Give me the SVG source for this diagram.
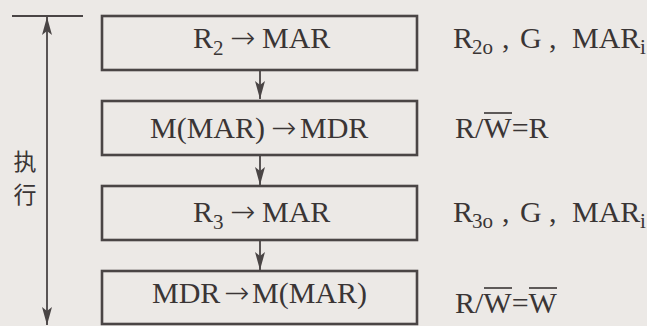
<svg xmlns="http://www.w3.org/2000/svg" width="647" height="326" viewBox="0 0 647 326">
<defs>
<style>
.bg{fill:#ece9e6}
.box{fill:none;stroke:#4a4545;stroke-width:2.6}
.t{font-size:30px;fill:#3a3535}
.sub{font-size:21px}
.ar{font-family:"DejaVu Sans",sans-serif;font-size:30px;font-weight:200}
.cn{font-size:23px;fill:#3a3535}
.ln{stroke:#4a4545;stroke-width:1.8;fill:none}
.bar{stroke:#3a3535;stroke-width:1.6}
</style>
<marker id="ah" viewBox="0 0 18 10" refX="18" refY="5" markerWidth="18" markerHeight="10" markerUnits="userSpaceOnUse" orient="auto-start-reverse">
<path d="M0,0 L18,5 L0,10 L4,5 Z" fill="#4a4545"/>
</marker>
</defs>
<rect class="bg" x="0" y="0" width="647" height="326"/>

<g id="timeline">
<line class="ln" x1="12" y1="16" x2="83" y2="16"/>
<line class="ln" x1="47" y1="17" x2="47" y2="325" marker-start="url(#ah)" marker-end="url(#ah)"/>
<text class="cn" font-family="'Noto Sans CJK SC', 'Noto Sans CJK JP', sans-serif" x="25" y="170" text-anchor="middle">执</text>
<text class="cn" font-family="'Noto Sans CJK SC', 'Noto Sans CJK JP', sans-serif" x="25" y="203" text-anchor="middle">行</text>
</g>

<g id="connectors">
<line class="ln" x1="260" y1="71" x2="260" y2="99" marker-end="url(#ah)"/>
<line class="ln" x1="260" y1="156" x2="260" y2="185" marker-end="url(#ah)"/>
<line class="ln" x1="260" y1="241" x2="260" y2="270" marker-end="url(#ah)"/>
</g>

<g id="step1" font-family="'Liberation Serif', 'DejaVu Serif', serif">
<rect class="box" x="102" y="16" width="315" height="54"/>
<text class="t" x="193" y="48">R<tspan class="sub" dy="7">2</tspan><tspan class="ar" x="230" dy="-7">→</tspan><tspan x="262">MAR</tspan></text>
<text class="t" x="453" y="48">R<tspan class="sub" x="472" dy="6">2o</tspan><tspan x="502" dy="-6">,</tspan><tspan x="520">G</tspan><tspan x="549">,</tspan><tspan x="572">MAR</tspan><tspan class="sub" x="640" dy="6">i</tspan></text>
</g>

<g id="step2" font-family="'Liberation Serif', 'DejaVu Serif', serif">
<rect class="box" x="102" y="101" width="315" height="54"/>
<text class="t" x="150" y="138">M(MAR)<tspan class="ar" x="271">→</tspan><tspan x="300">MDR</tspan></text>
<text class="t" x="455" y="138">R/W=R</text>
<line class="bar" x1="484" y1="113" x2="512" y2="113"/>
</g>

<g id="step3" font-family="'Liberation Serif', 'DejaVu Serif', serif">
<rect class="box" x="102" y="186" width="315" height="54"/>
<text class="t" x="193" y="222">R<tspan class="sub" dy="7">3</tspan><tspan class="ar" x="230" dy="-7">→</tspan><tspan x="262">MAR</tspan></text>
<text class="t" x="453" y="222">R<tspan class="sub" x="472" dy="6">3o</tspan><tspan x="502" dy="-6">,</tspan><tspan x="520">G</tspan><tspan x="549">,</tspan><tspan x="572">MAR</tspan><tspan class="sub" x="640" dy="6">i</tspan></text>
</g>

<g id="step4" font-family="'Liberation Serif', 'DejaVu Serif', serif">
<rect class="box" x="102" y="271" width="315" height="53"/>
<text class="t" x="152" y="303">MDR<tspan class="ar" x="224">→</tspan><tspan x="252">M(MAR)</tspan></text>
<text class="t" x="455" y="313">R/W=W</text>
<line class="bar" x1="484" y1="288" x2="512" y2="288"/>
<line class="bar" x1="529" y1="288" x2="557" y2="288"/>
</g>
</svg>
